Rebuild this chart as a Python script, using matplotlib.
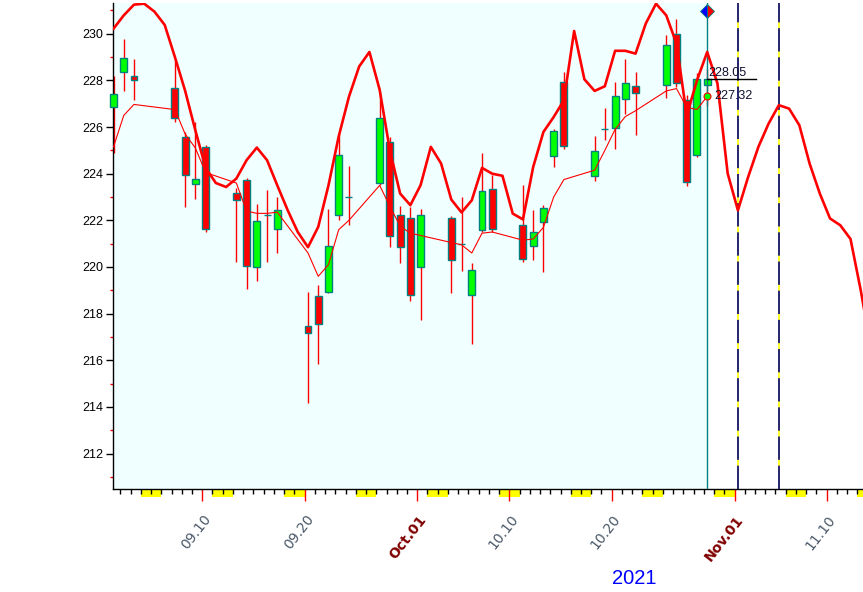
import matplotlib
matplotlib.use('Agg')
import matplotlib.pyplot as plt
import numpy as np
import pandas as pd
from matplotlib.patches import Rectangle

# daily candles (trading days)
dates = ['2021-09-01', '2021-09-02', '2021-09-03', '2021-09-07', '2021-09-08', '2021-09-09',
         '2021-09-10', '2021-09-13', '2021-09-14', '2021-09-15', '2021-09-16', '2021-09-17',
         '2021-09-20', '2021-09-21', '2021-09-22', '2021-09-23', '2021-09-24', '2021-09-27',
         '2021-09-28', '2021-09-29', '2021-09-30', '2021-10-01', '2021-10-04', '2021-10-05',
         '2021-10-06', '2021-10-07', '2021-10-08', '2021-10-11', '2021-10-12', '2021-10-13',
         '2021-10-14', '2021-10-15', '2021-10-18', '2021-10-19', '2021-10-20', '2021-10-21',
         '2021-10-22', '2021-10-25', '2021-10-26', '2021-10-27', '2021-10-28', '2021-10-29']
opens = [226.85, 228.35, 228.19, 227.69, 225.59, 223.58, 225.14, 223.19, 223.71, 220.02, 222.22, 221.65,
         217.46, 218.74, 218.91, 222.22, 223.0, 223.62, 225.38, 222.25, 222.08, 219.98, 222.12, 220.97,
         218.78, 221.58, 223.35, 221.82, 220.88, 221.91, 224.78, 227.95, 223.89, 225.92, 225.96, 227.22,
         227.78, 227.82, 230.01, 227.15, 224.82, 227.82]
highs = [228.2, 229.76, 228.9, 228.86, 225.79, 226.22, 225.22, 223.4, 223.8, 222.69, 223.29, 223.0,
         218.91, 219.22, 222.48, 225.72, 224.33, 227.5, 225.58, 222.61, 222.58, 222.5, 222.2, 223.0,
         220.15, 224.89, 223.94, 223.51, 222.43, 222.65, 225.9, 228.36, 225.61, 226.82, 227.93, 228.94,
         228.36, 229.94, 230.65, 227.39, 228.3, 228.51]
lows = [224.9, 227.55, 227.18, 226.22, 222.58, 222.9, 221.48, 220.22, 219.04, 219.4, 220.22, 220.61,
        214.18, 215.82, 218.87, 222.0, 221.82, 223.5, 220.84, 220.15, 218.55, 217.72, 218.89, 219.84,
        216.7, 221.5, 221.5, 220.22, 220.32, 219.79, 224.29, 225.04, 223.68, 225.44, 225.05, 226.58,
        225.65, 227.25, 227.73, 223.48, 224.72, 226.92]
closes = [227.4, 228.98, 228.0, 226.41, 223.94, 223.79, 221.65, 222.89, 220.06, 221.99, 222.22, 222.46,
          217.19, 217.54, 220.88, 224.79, 223.0, 226.41, 221.32, 220.84, 218.78, 222.25, 220.29, 220.97,
          219.85, 223.24, 221.61, 220.33, 221.48, 222.55, 225.85, 225.18, 224.99, 225.92, 227.35, 227.91,
          227.44, 229.54, 227.87, 223.65, 228.08, 228.05]
# thin average line, one value per candle
avg_line = [225.15, 226.5, 226.97, 226.75, 225.7, 225.1, 224.05, 223.6, 222.4, 222.3, 222.3, 222.35,
            220.6, 219.6, 220.1, 221.6, 222.0, 223.5, 222.6, 221.75, 221.45, 221.35, 221.05, 220.95,
            220.6, 221.45, 221.5, 221.15, 221.2, 221.7, 223.0, 223.75, 224.15, 225.0, 225.9, 226.45,
            226.7, 227.55, 227.65, 226.85, 226.75, 227.32]
# thick cycle line, one value per calendar day from 2021-09-01
cycle_line = [230.22, 230.79, 231.25, 231.29, 230.95, 230.38, 229.0, 227.55, 225.85, 224.25,
              223.6, 223.43, 223.79, 224.58, 225.12, 224.58, 223.5, 222.45, 221.5, 220.85,
              221.72, 223.5, 225.6, 227.3, 228.6, 229.22, 227.6, 225.0, 223.15, 222.65,
              223.51, 225.15, 224.44, 222.89, 222.34, 222.86, 224.25, 224.0, 223.91, 222.29,
              222.04, 224.29, 225.79, 226.43, 227.15, 230.12, 228.05, 227.55, 227.75, 229.27,
              229.27, 229.15, 230.44, 231.29, 230.79, 229.58, 226.5, 228.0, 229.22, 227.87,
              224.01, 222.43, 223.86, 225.15, 226.15, 226.94, 226.79, 226.08, 224.44, 223.15,
              222.08, 221.79, 221.2, 219.0, 216.5]
tick_days = ['2021-09-10', '2021-09-20', '2021-10-01', '2021-10-10', '2021-10-20', '2021-11-01', '2021-11-10']
tick_labels = ['09.10', '09.20', 'Oct.01', '10.10', '10.20', 'Nov.01', '11.10']
weekends = ['2021-09-04', '2021-09-11', '2021-09-18', '2021-09-25', '2021-10-02', '2021-10-09',
            '2021-10-16', '2021-10-23', '2021-10-30', '2021-11-06', '2021-11-13']
cycle_marks = ['2021-11-01', '2021-11-05']
last_close = 228.05
last_avg = 227.32

start = pd.Timestamp('2021-09-01')
def day(s):
    return (pd.Timestamp(s) - start).days

off = 0.33  # candles sit a bit right of the day tick
xc = np.array([day(d) for d in dates]) + off
o = np.array(opens); h = np.array(highs); l = np.array(lows); c = np.array(closes)

fig = plt.figure(figsize=(8.63, 5.92), dpi=100)
ax = fig.add_axes([113 / 863, 103 / 592, 750 / 863, 486 / 592])
ax.set_xlim(0.28, 73.55)
ax.set_ylim(210.48, 231.32)
ax.set_facecolor('white')
for s in ['top', 'right']:
    ax.spines[s].set_visible(False)
for s in ['left', 'bottom']:
    ax.spines[s].set_linewidth(1.0)

last_x = xc[-1]
ax.axvspan(0.28, last_x, color='#F0FFFF', zorder=0, lw=0)

# candles
ax.vlines(xc, l, h, color='red', lw=1, zorder=2)
up = c >= o
ax.bar(xc[up], c[up] - o[up], bottom=o[up], width=0.68, color='#00FF00',
       edgecolor='#008080', lw=1, zorder=3, clip_on=False)
ax.bar(xc[~up], c[~up] - o[~up], bottom=o[~up], width=0.68, color='#FF0000',
       edgecolor='#008080', lw=1, zorder=3, clip_on=False)

ax.plot(xc, avg_line, color='red', lw=0.8, zorder=4)
cx = np.arange(len(cycle_line)) + off
ax.plot(cx, cycle_line, color='red', lw=1.9, zorder=5)

# vertical markers
ax.axvline(last_x, color='#008080', lw=1, zorder=4)
for m in cycle_marks:
    xm = day(m) + 0.3
    ax.axvline(xm, color='yellow', lw=1.2, zorder=4)
    ax.axvline(xm, color='#000080', lw=1.2, dashes=(14, 3.5), zorder=4)
ax.plot(last_x, 230.98, marker='D', ms=7, fillstyle='left', color='blue',
        markerfacecoloralt='red', markeredgecolor='#008080', mew=0.6, zorder=6, clip_on=False)

# last values
ax.plot([last_x, 63.1], [last_close, last_close], color='black', lw=1, zorder=6)
ax.text(last_x + 0.1, last_close + 0.02, '%.2f' % last_close, ha='left', va='bottom',
        fontsize=9, family='Liberation Sans', color='#101030', zorder=7)
ax.plot(last_x, last_avg, 'o', ms=5, mfc='#00FF00', mec='red', mew=0.8, zorder=7)
ax.text(last_x + 0.7, last_avg, '%.2f' % last_avg, ha='left', va='center',
        fontsize=9, family='Liberation Sans', color='#101030', zorder=7)

# y axis
ax.set_yticks(np.arange(212, 231, 2))
ax.set_yticks(np.arange(211, 232, 2), minor=True)
ax.tick_params(axis='y', which='major', length=5, width=1, color='black', pad=2,
               labelsize=9)
ax.tick_params(axis='y', which='minor', length=2.5, width=1, color='red')
for t in ax.get_yticklabels():
    t.set_family('Liberation Sans')

# x axis
ax.set_xticks([day(d) for d in tick_days])
ax.set_xticks(np.arange(1, 74), minor=True)
ax.set_xticklabels([])
ax.tick_params(axis='x', which='major', length=8.5, width=1, color='red')
ax.tick_params(axis='x', which='minor', length=3.5, width=1, color='black')
for d, lab in zip(tick_days, tick_labels):
    month = not lab[0].isdigit()
    ax.annotate(lab, xy=(day(d), 0), xycoords=('data', 'axes fraction'),
                xytext=(4.5, -20), textcoords='offset points', rotation=52,
                rotation_mode='anchor', ha='right', va='center', fontsize=10,
                family='DejaVu Sans', fontweight='bold' if month else 'normal',
                color='#800000' if month else '#4a5868')

for w in weekends:
    ax.add_patch(Rectangle((day(w), 0), 2, -8 / 486, transform=ax.get_xaxis_transform(),
                           color='yellow', lw=0, clip_on=False, zorder=1))

fig.text(634 / 863, 1 - 578 / 592, '2021', ha='center', va='center', fontsize=14.5,
         family='Liberation Sans', color='blue')

fig.savefig('out.png', dpi=100)
